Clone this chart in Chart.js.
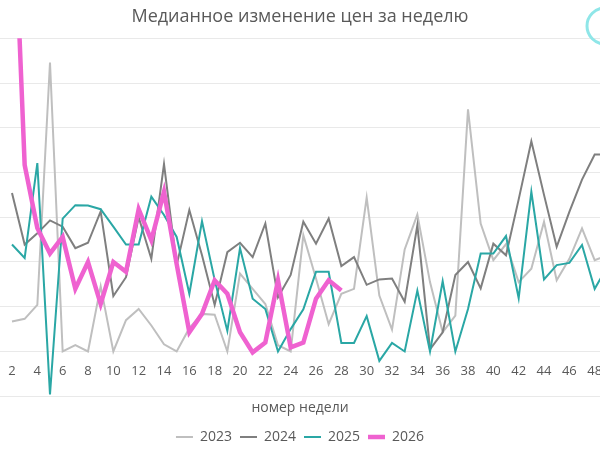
<!DOCTYPE html>
<html>
<head>
<meta charset="utf-8">
<script src="https://cdn.jsdelivr.net/npm/chart.js@4.4.0/dist/chart.umd.min.js"></script>
<style>
  html, body { margin: 0; padding: 0; background: #fff; }
  #wrap { width: 600px; height: 450px; position: relative; }
</style>
</head>
<body>
<div id="wrap"><canvas id="chart"></canvas></div>
<script>
// weeks shown on the axis (the reference is cropped: week 2 .. week 49)
const weeks = [2, 3, 4, 5, 6, 7, 8, 9, 10, 11, 12, 13, 14, 15, 16, 17, 18, 19, 20, 21, 22, 23, 24, 25,
               26, 27, 28, 29, 30, 31, 32, 33, 34, 35, 36, 37, 38, 39, 40, 41, 42, 43, 44, 45, 46, 47, 48, 49];
const years = ['2023', '2024', '2025', '2026'];

// median weekly price change
const y2023 = [0.067, 0.073, 0.104, 0.646, 0.000, 0.014, 0.000, 0.146, 0.000, 0.070, 0.095, 0.058,
               0.016, 0.000, 0.052, 0.084, 0.082, 0.000, 0.174, 0.140, 0.106, 0.014, 0.000, 0.260,
               0.163, 0.061, 0.129, 0.140, 0.344, 0.125, 0.049, 0.228, 0.306, 0.155, 0.043, 0.080,
               0.541, 0.286, 0.204, 0.240, 0.155, 0.185, 0.290, 0.159, 0.207, 0.275, 0.204, 0.215];
const y2024 = [0.354, 0.239, 0.264, 0.293, 0.279, 0.231, 0.243, 0.313, 0.124, 0.166, 0.300, 0.207,
               0.419, 0.193, 0.316, 0.215, 0.104, 0.222, 0.243, 0.211, 0.286, 0.121, 0.171, 0.290,
               0.241, 0.297, 0.191, 0.211, 0.149, 0.161, 0.163, 0.111, 0.282, 0.005, 0.043, 0.171,
               0.200, 0.141, 0.241, 0.215, 0.340, 0.470, 0.350, 0.234, 0.312, 0.384, 0.440, 0.440];
const y2025 = [0.239, 0.209, 0.421, -0.096, 0.297, 0.327, 0.326, 0.318, 0.279, 0.239, 0.239, 0.346,
               0.305, 0.256, 0.129, 0.291, 0.160, 0.046, 0.231, 0.118, 0.095, 0.000, 0.050, 0.094,
               0.178, 0.178, 0.019, 0.019, 0.079, -0.021, 0.019, 0.000, 0.136, 0.000, 0.157, 0.000,
               0.095, 0.219, 0.219, 0.258, 0.119, 0.357, 0.161, 0.193, 0.198, 0.238, 0.140, 0.190];
const y2026 = [1.120, 0.417, 0.276, 0.219, 0.256, 0.140, 0.200, 0.106, 0.200, 0.178, 0.318, 0.249,
               0.357, 0.195, 0.043, 0.084, 0.159, 0.129, 0.043, -0.002, 0.020, 0.159, 0.009, 0.020,
               0.118, 0.159, 0.136];

const yTicks = [-0.1, 0, 0.1, 0.2, 0.3, 0.4, 0.5, 0.6, 0.7];

const textGray = '#595959';
const styles = [
    { color: '#bfbfbf', width: 2 },
    { color: '#7f7f7f', width: 2 },
    { color: '#2aa7a5', width: 2 },
    { color: '#ef62d0', width: 4.5 }
];

const toPoints = arr => arr.map((v, i) => ({ x: weeks[i], y: v }));
const series = [y2023, y2024, y2025, y2026];

// small cyan ring in the top right corner (logo, cut off)
const logoRing = {
    id: 'logoRing',
    afterDraw(chart) {
        const ctx = chart.ctx;
        ctx.save();
        ctx.beginPath();
        ctx.arc(605, 26, 18, 0, Math.PI * 2);
        ctx.strokeStyle = '#8fe6e8';
        ctx.lineWidth = 3;
        ctx.stroke();
        ctx.restore();
    }
};

new Chart(document.getElementById('chart'), {
    type: 'line',
    data: {
        datasets: years.map((year, i) => ({
            label: year,
            data: toPoints(series[i]),
            borderColor: styles[i].color,
            backgroundColor: styles[i].color,
            borderWidth: styles[i].width,
            pointRadius: 0,
            tension: 0,
            clip: 0,
            order: 4 - i
        }))
    },
    options: {
        responsive: true,
        maintainAspectRatio: false,
        animation: false,
        layout: { padding: { left: 0, right: 0, top: 0, bottom: -4 } },
        scales: {
            x: {
                type: 'linear',
                position: { y: 0 },
                min: 1.053,
                max: 48.42,
                grid: { display: false },
                border: { display: false },
                afterFit: axis => { axis.paddingLeft = 0; axis.paddingRight = 0; },
                ticks: {
                    stepSize: 2,
                    includeBounds: false,
                    padding: 4,
                    color: textGray,
                    font: { family: 'Open Sans', size: 13 },
                    maxRotation: 0,
                    autoSkip: false
                }
            },
            y: {
                min: yTicks[0],
                max: yTicks[yTicks.length - 1],
                afterBuildTicks: axis => { axis.ticks = yTicks.map(v => ({ value: v })); },
                grid: { color: '#e9e9e9', lineWidth: 1, drawTicks: false },
                border: { display: false },
                ticks: { display: false }
            }
        },
        plugins: {
            title: {
                display: true,
                text: 'Медианное изменение цен за неделю',
                color: textGray,
                font: { family: 'Open Sans', size: 18, weight: 'normal' },
                padding: { top: 6, bottom: 10.7 }
            },
            subtitle: {
                display: true,
                position: 'bottom',
                text: 'номер недели',
                color: textGray,
                font: { family: 'Open Sans', size: 14 },
                padding: { top: 3, bottom: 6 },
                weight: 500
            },
            legend: {
                position: 'bottom',
                weight: 2000,
                labels: {
                    usePointStyle: true,
                    pointStyle: 'line',
                    pointStyleWidth: 17,
                    color: textGray,
                    font: { family: 'Open Sans', size: 14 },
                    padding: 8,
                    sort: (a, b) => a.datasetIndex - b.datasetIndex
                }
            },
            tooltip: { enabled: false }
        }
    },
    plugins: [logoRing]
});
</script>
</body>
</html>
